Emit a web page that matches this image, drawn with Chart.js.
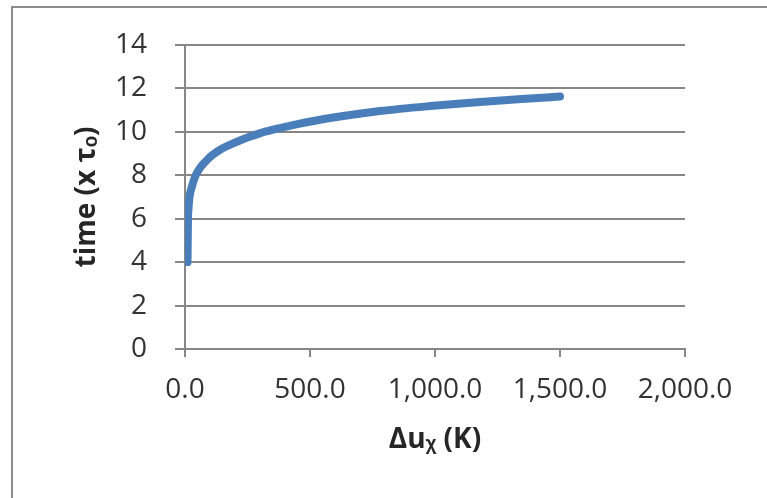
<!DOCTYPE html>
<html>
<head>
<meta charset="utf-8">
<script src="https://cdn.jsdelivr.net/npm/chart.js@4/dist/chart.umd.min.js"></script>
<style>
  html, body { margin: 0; padding: 0; background: #ffffff; }
  #wrap { position: relative; width: 767px; height: 498px; overflow: hidden; }
  #frame { position: absolute; left: 11px; top: 6px; width: 800px; height: 520px;
           border-left: 2px solid #8c8c8c; border-top: 2px solid #8c8c8c; box-sizing: border-box; }
  canvas { position: absolute; left: 0; top: 0; }
</style>
</head>
<body>
<div id="wrap">
  <div id="frame"></div>
  <canvas id="c" width="767" height="498"></canvas>
</div>
<script>
// Data
const duX = [10, 11, 12, 14, 17, 21, 27, 35, 43, 60, 80, 110, 147, 190, 227, 270, 320, 380, 450, 580, 780, 980, 1180, 1380, 1500];
const timeValues = [4.0, 5.0, 6.0, 6.45, 6.9, 7.2, 7.45, 7.75, 8.0, 8.33, 8.6, 8.93, 9.22, 9.45, 9.63, 9.81, 10.0, 10.17, 10.35, 10.63, 10.95, 11.18, 11.37, 11.53, 11.62];
const xTickLabels = ['0.0', '500.0', '1,000.0', '1,500.0', '2,000.0'];
const yTickLabels = ['0', '2', '4', '6', '8', '10', '12', '14'];
const xTitle = 'Δuᵪ (K)';
const yTitle = 'time (x τₒ)';

const points = duX.map((x, i) => ({ x: x, y: timeValues[i] }));

const gridColor = '#878787';
const tickFont = { family: '"Open Sans", sans-serif', size: 28 };
const titleFont = { family: '"Open Sans", sans-serif', size: 28, weight: 'bold' };

new Chart(document.getElementById('c'), {
  type: 'scatter',
  data: {
    datasets: [{
      data: points,
      showLine: true,
      borderColor: '#4a7ebb',
      borderWidth: 8,
      borderCapStyle: 'round',
      borderJoinStyle: 'round',
      pointRadius: 0,
      cubicInterpolationMode: 'monotone',
      fill: false
    }]
  },
  options: {
    responsive: false,
    animation: false,
    devicePixelRatio: 1,
    layout: { padding: { top: 43, right: 82, left: 0, bottom: 0 } },
    plugins: { legend: { display: false }, tooltip: { enabled: false } },
    scales: {
      x: {
        type: 'linear',
        min: 0, max: 2000,
        afterFit: (s) => { s.height = 149; },
        ticks: {
          stepSize: 500,
          color: '#333333',
          font: tickFont,
          padding: 16,
          maxRotation: 0,
          autoSkip: false,
          callback: (v, i) => xTickLabels[i]
        },
        grid: { drawOnChartArea: false, drawTicks: true, tickLength: 8, color: gridColor, lineWidth: 2 },
        border: { display: true, color: gridColor, width: 2 },
        title: { display: true, text: xTitle, color: '#262626', font: titleFont, padding: { top: 0, bottom: 41 } }
      },
      y: {
        type: 'linear',
        min: 0, max: 14,
        afterFit: (s) => { s.width = 185; },
        ticks: {
          stepSize: 2,
          color: '#333333',
          font: tickFont,
          padding: 28,
          callback: (v, i) => yTickLabels[i]
        },
        grid: { drawOnChartArea: true, drawTicks: true, tickLength: 10, color: gridColor, lineWidth: 2 },
        border: { display: true, color: gridColor, width: 2 },
        title: { display: true, text: yTitle, color: '#262626', font: titleFont, padding: { top: 70, bottom: 0 } }
      }
    }
  }
});
</script>
</body>
</html>
